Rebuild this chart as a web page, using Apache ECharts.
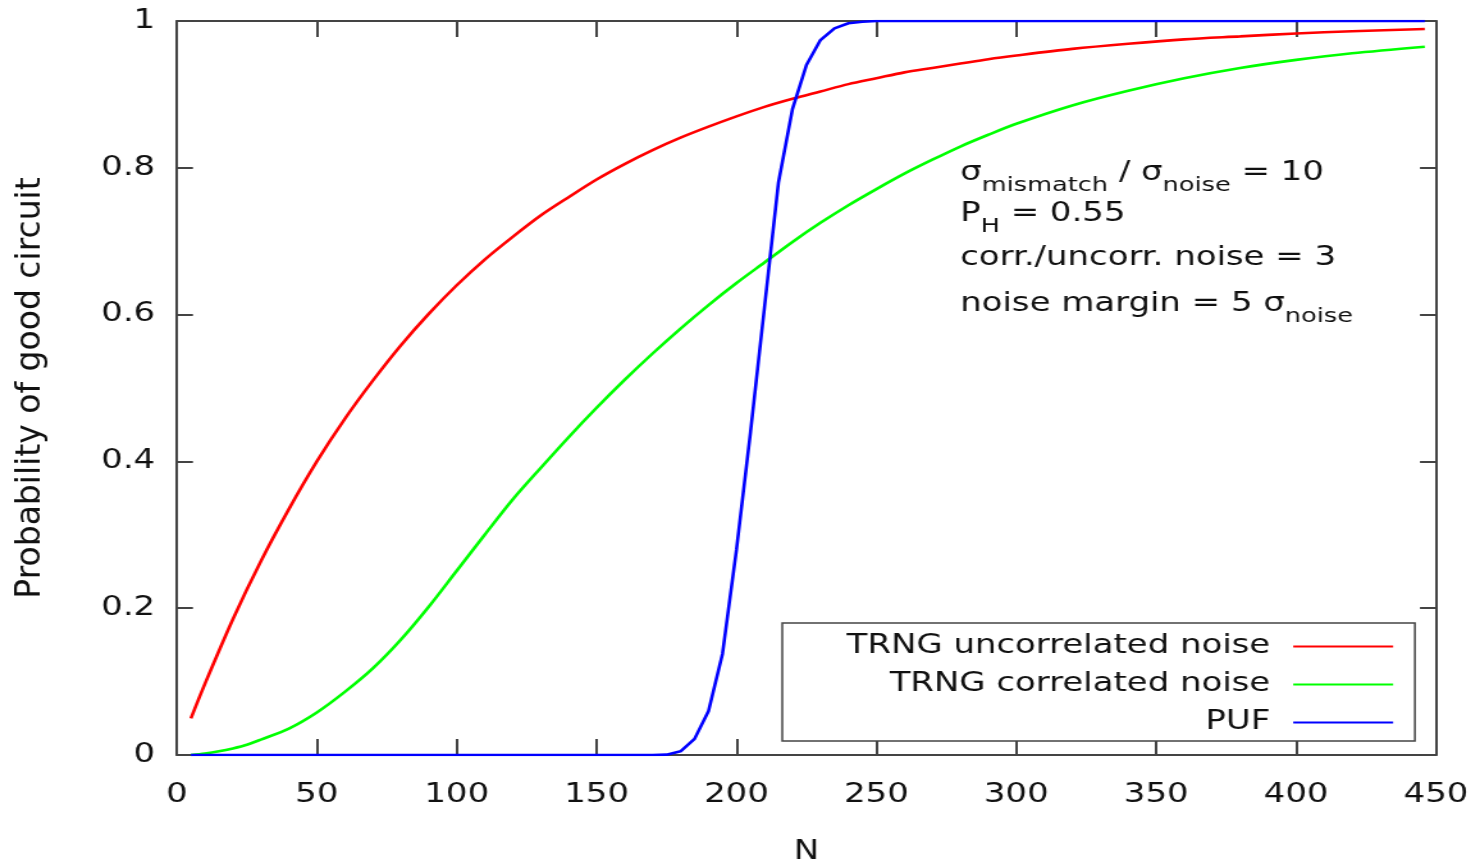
<!DOCTYPE html>
<html>
<head>
<meta charset="utf-8">
<script src="https://cdn.jsdelivr.net/npm/echarts@6/dist/echarts.min.js"></script>
<style>
  html, body { margin: 0; padding: 0; background: #ffffff; overflow: hidden; }
  #wrap { width: 1480px; height: 865px; overflow: hidden; }
  #chart { width: 1156px; height: 865px; transform: scaleX(1.28028); transform-origin: 0 0; }
</style>
</head>
<body>
<div id="wrap"><div id="chart"></div></div>
<script>
// Probability of a good circuit versus N
const seriesNames = ['TRNG uncorrelated noise', 'TRNG correlated noise', 'PUF'];

const redN = [5, 10, 20, 30, 40, 50, 60, 70, 80, 90, 100, 110, 120, 130, 140, 150, 160, 170, 180, 190,
  200, 210, 220, 230, 240, 250, 260, 270, 280, 290, 300, 320, 340, 360, 380, 400, 420, 446];
const redP = [0.05, 0.097, 0.185, 0.264, 0.335, 0.40, 0.458, 0.51, 0.558, 0.601, 0.64, 0.675, 0.706, 0.735,
  0.76, 0.784, 0.805, 0.824, 0.841, 0.856, 0.87, 0.883, 0.894, 0.904, 0.914, 0.922, 0.93, 0.936, 0.942,
  0.948, 0.953, 0.962, 0.969, 0.975, 0.979, 0.983, 0.986, 0.989];

const greenN = [5, 10, 15, 20, 25, 30, 40, 50, 60, 70, 80, 90, 100, 110, 120, 130, 140, 150, 160, 170, 180,
  190, 200, 210, 220, 230, 240, 250, 260, 270, 280, 290, 300, 320, 340, 360, 380, 400, 420, 446];
const greenP = [0.0, 0.002, 0.005, 0.009, 0.014, 0.021, 0.036, 0.058, 0.086, 0.118, 0.157, 0.202, 0.251,
  0.3, 0.348, 0.391, 0.433, 0.473, 0.511, 0.547, 0.581, 0.613, 0.643, 0.671, 0.699, 0.725, 0.749, 0.771,
  0.792, 0.811, 0.829, 0.845, 0.86, 0.885, 0.905, 0.922, 0.936, 0.947, 0.956, 0.965];

const pufN = [5, 170, 175, 180, 185, 190, 195, 200, 205, 210, 215, 220, 225, 230, 235, 240, 245, 250, 446];
const pufP = [0, 0, 0.0005, 0.005, 0.022, 0.06, 0.138, 0.28, 0.44, 0.61, 0.78, 0.88, 0.94, 0.974, 0.99,
  0.997, 0.999, 1, 1];

const xTicks = { min: 0, max: 450, step: 50 };
const yTicks = { min: 0, max: 1, step: 0.2 };

const xTitle = 'N';
const yTitle = 'Probability of good circuit';

const FONT = 'DejaVu Sans';
const FRAME = '#444444';
const TEXT = '#111111';
const STRETCH = 1.28028; // horizontal scale applied to the chart box

function pairs(xs, ys) { return xs.map((x, i) => [x, ys[i]]); }

const frameAxisX = (pos) => ({
  type: 'value', position: pos, min: xTicks.min, max: xTicks.max, interval: xTicks.step,
  axisLine: { show: true, onZero: false, lineStyle: { color: FRAME, width: 2 } },
  axisTick: { show: true, inside: true, length: 16, lineStyle: { color: FRAME, width: 2 } },
  splitLine: { show: false }
});
const frameAxisY = (pos) => ({
  type: 'value', position: pos, min: yTicks.min, max: yTicks.max, interval: yTicks.step,
  axisLine: { show: true, onZero: false, lineStyle: { color: FRAME, width: 2 } },
  axisTick: { show: true, inside: true, length: 12.5, lineStyle: { color: FRAME, width: 2 } },
  splitLine: { show: false }
});

const xBottom = Object.assign(frameAxisX('bottom'), {
  axisLabel: { show: true, fontFamily: FONT, fontSize: 26.5, color: TEXT, margin: 27 },
  name: xTitle, nameLocation: 'middle', nameGap: 84,
  nameTextStyle: { fontFamily: FONT, fontSize: 26.5, color: TEXT }
});
const xTop = Object.assign(frameAxisX('top'), { axisLabel: { show: false } });
const yLeft = Object.assign(frameAxisY('left'), {
  axisLabel: { show: true, fontFamily: FONT, fontSize: 26.5, color: TEXT, margin: 17 }
});
const yRight = Object.assign(frameAxisY('right'), { axisLabel: { show: false } });

const colors = ['#ff0000', '#00ff00', '#0000ff'];

function lineSeries(i, data, smooth) {
  return {
    type: 'line', name: seriesNames[i], data: data, xAxisIndex: 0, yAxisIndex: 0,
    symbol: 'none', showSymbol: false, smooth: smooth, clip: true,
    lineStyle: { color: colors[i], width: 2.6 }, itemStyle: { color: colors[i] },
    emphasis: { disabled: true }
  };
}

const sub = { fontFamily: FONT, fontSize: 20, lineHeight: 24, verticalAlign: 'bottom', fill: TEXT };
const main = { fontFamily: FONT, fontSize: 26.5, lineHeight: 44, fill: TEXT };
const annotLines = [
  { top: 160, text: '{m|σ}{s|mismatch}{m| / σ}{s|noise}{m| = 10}' },
  { top: 201, text: '{m|P}{s|H}{m| = 0.55}' },
  { top: 245, text: '{m|corr./uncorr. noise = 3}' },
  { top: 291, text: '{m|noise margin = 5 σ}{s|noise}' }
];

const graphics = annotLines.map(l => ({
  type: 'text', left: 750, top: l.top, silent: true,
  style: { text: l.text, rich: { m: main, s: sub }, fontFamily: FONT, fontSize: 26.5, fill: TEXT }
}));
// vertical axis title, kept at natural proportions inside the stretched box
graphics.push({
  type: 'text', x: 31 / STRETCH, y: 388, rotation: Math.PI / 2, scaleY: 1 / STRETCH, silent: true,
  style: { text: yTitle, fontFamily: FONT, fontSize: 33, fill: TEXT, align: 'center', verticalAlign: 'middle' }
});

const chart = echarts.init(document.getElementById('chart'), null, { renderer: 'canvas' });
chart.setOption({
  backgroundColor: '#ffffff',
  animation: false,
  grid: { left: 138.2, right: 34.4, top: 21, bottom: 110, containLabel: false, outerBoundsMode: 'none' },
  xAxis: [xBottom, xTop],
  yAxis: [yLeft, yRight],
  legend: {
    data: seriesNames,
    orient: 'vertical', align: 'right',
    left: 611, top: 623,
    itemWidth: 78, itemHeight: 30, itemGap: 11,
    padding: [10, 16, 5, 50.3],
    borderColor: FRAME, borderWidth: 1.5, backgroundColor: '#ffffff',
    selectedMode: false,
    itemStyle: { opacity: 0 },
    textStyle: { fontFamily: FONT, fontSize: 26.5, color: TEXT, padding: [0, 13, 0, 0] }
  },
  graphic: graphics,
  series: [
    lineSeries(0, pairs(redN, redP), 0.3),
    lineSeries(1, pairs(greenN, greenP), 0.3),
    lineSeries(2, pairs(pufN, pufP), false)
  ]
});
</script>
</body>
</html>
